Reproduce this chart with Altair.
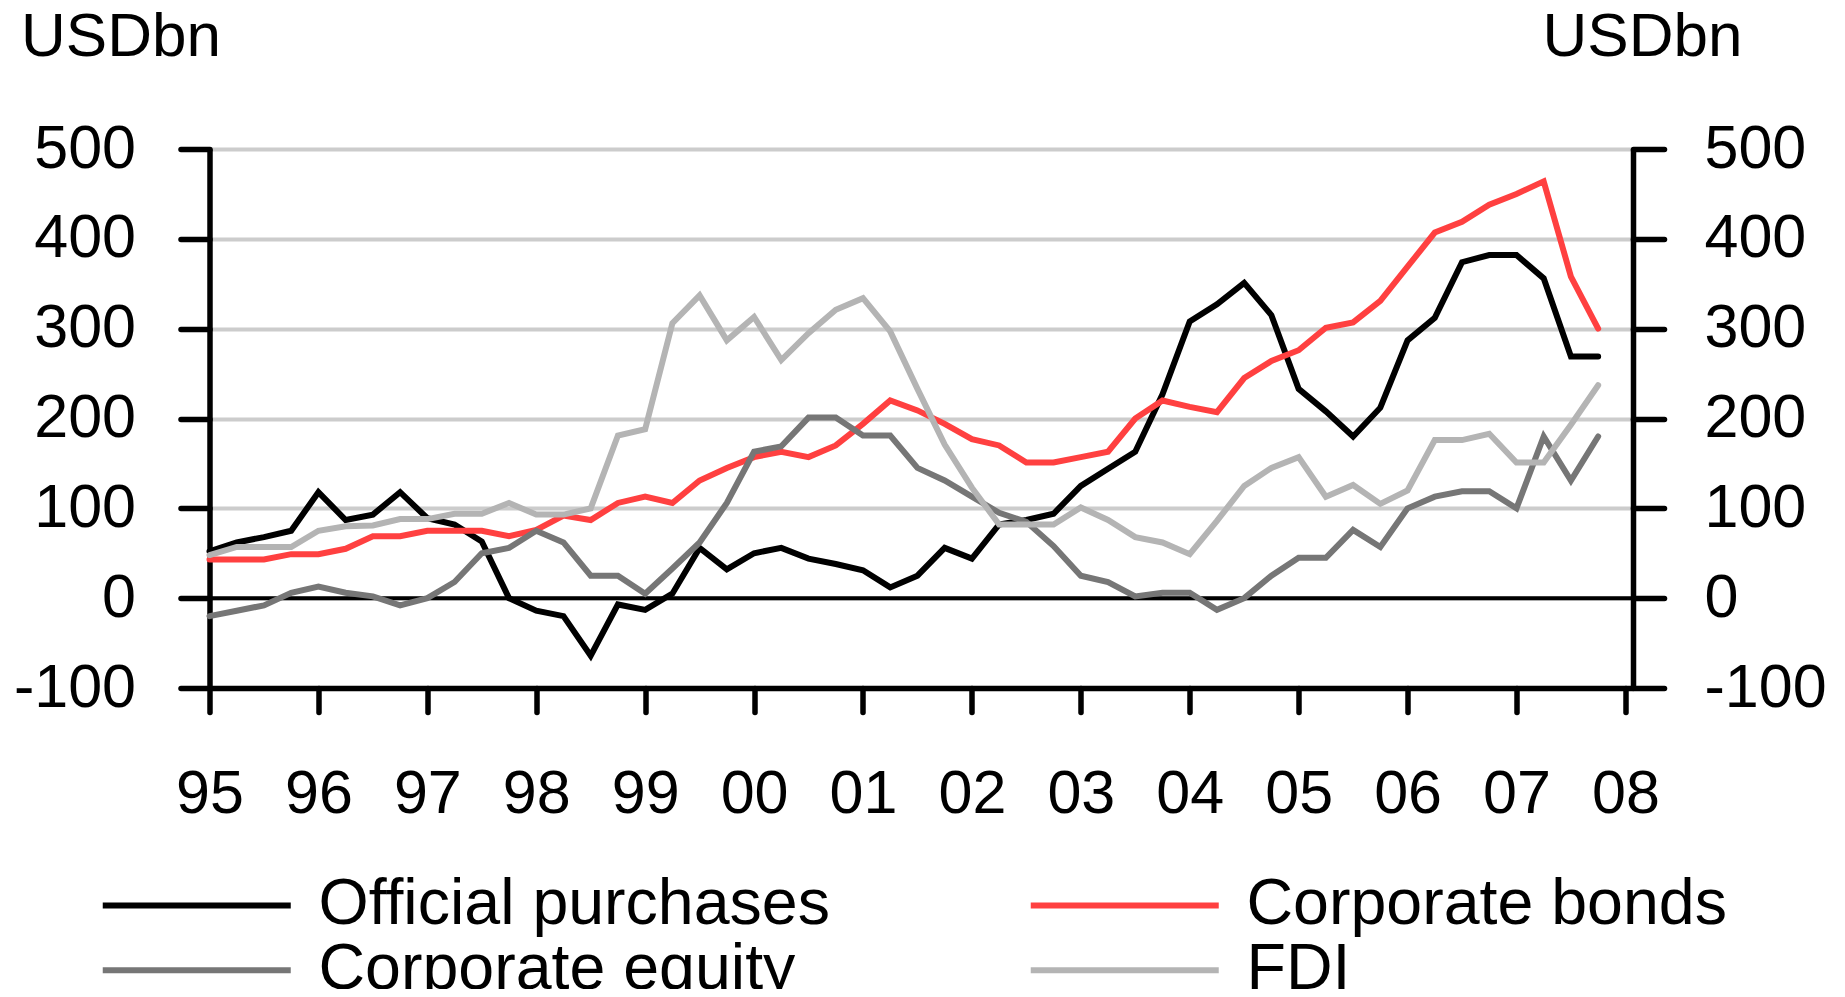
import altair as alt
import pandas as pd

# ---- data (quarterly, 1995Q1 .. 2007Q4), USD bn ----
start_year = 1995
series_names = ["Official purchases", "Corporate bonds", "Corporate equity", "FDI"]
series_colors = ["#000000", "#ff4040", "#767676", "#b4b4b4"]
# legend fills column by column: order so that rows read
# "Official purchases | Corporate bonds" and "Corporate equity | FDI"
legend_order = ["Official purchases", "Corporate equity", "Corporate bonds", "FDI"]
legend_colors = ["#000000", "#767676", "#ff4040", "#b4b4b4"]

official = [52, 62, 68, 75, 118, 87, 93, 118, 89, 82, 63, 0, -14, -20, -64, -7,
            -13, 5, 56, 32, 50, 56, 44, 38, 31, 12, 25, 56, 44, 82, 87, 94,
            125, 144, 163, 227, 308, 327, 351, 315, 233, 208, 180, 212, 287, 312, 374, 382,
            382, 356, 269, 269]
bonds = [43, 43, 43, 49, 49, 55, 69, 69, 75, 75, 75, 69, 76, 92, 87, 106,
         113, 106, 131, 145, 157, 163, 157, 170, 194, 220, 209, 194, 177, 170, 151, 151,
         157, 163, 200, 220, 213, 207, 245, 264, 276, 301, 307, 331, 369, 407, 419, 438,
         450, 464, 358, 300]
equity = [-20, -14, -8, 6, 13, 6, 2, -8, 0, 18, 50, 56, 75, 62, 25, 25,
          5, 33, 62, 106, 163, 169, 201, 201, 181, 181, 145, 131, 113, 95, 85, 58,
          25, 18, 2, 6, 6, -13, 0, 25, 45, 45, 76, 57, 100, 113, 119, 119,
          100, 180, 131, 180]
fdi = [48, 57, 57, 57, 75, 80, 81, 88, 88, 94, 94, 106, 93, 93, 100, 181,
       188, 306, 337, 287, 313, 265, 295, 321, 334, 297, 233, 171, 123, 82, 82, 82,
       101, 87, 68, 62, 49, 86, 125, 145, 157, 113, 126, 105, 120, 176, 176, 183,
       151, 151, 193, 237]

year_ticks = list(range(1995, 2009))
y_ticks = [-100, 0, 100, 200, 300, 400, 500]
y_domain = [-100, 500]
x_domain = [1995, 2008.07]

rows = []
for name, vals in zip(series_names, [official, bonds, equity, fdi]):
    for i, v in enumerate(vals):
        rows.append({"t": start_year + i / 4.0, "series": name, "value": v})
df = pd.DataFrame(rows)

FONT = "Liberation Sans"
FS = 61
AXW = 5.5

lines = alt.Chart(df).mark_line(strokeWidth=6, strokeCap="round").encode(
    x=alt.X("t:Q",
            scale=alt.Scale(domain=x_domain, nice=False, zero=False),
            axis=alt.Axis(values=year_ticks, title=None, grid=False,
                          labelExpr="substring(toString(datum.value), 2)",
                          tickSize=24, tickWidth=AXW, tickColor="black", tickCap="round",
                          domainColor="black", domainWidth=AXW,
                          labelPadding=52, labelFont=FONT, labelFontSize=FS,
                          labelColor="black", labelFlush=False, labelOverlap=False)),
    y=alt.Y("value:Q",
            scale=alt.Scale(domain=y_domain, nice=False, zero=False),
            axis=alt.Axis(orient="left", values=y_ticks, grid=True,
                          gridColor="#cccccc", gridWidth=4,
                          labelExpr="toString(datum.value)",
                          tickSize=29, tickWidth=AXW, tickColor="black", tickCap="round",
                          domainColor="black", domainWidth=AXW,
                          labelPadding=45, labelFont=FONT, labelFontSize=FS,
                          labelColor="black", labelFlush=False, labelOverlap=False,
                          title="USDbn", titleAngle=0, titleX=-189, titleY=-94,
                          titleAlign="left", titleBaseline="alphabetic",
                          titleFont=FONT, titleFontSize=62, titleFontWeight="normal",
                          titleColor="black")),
    color=alt.Color("series:N",
                    scale=alt.Scale(domain=legend_order, range=legend_colors),
                    sort=legend_order,
                    legend=alt.Legend(orient="none", legendX=-45, legendY=724,
                                      columns=2, title=None, padding=0,
                                      symbolType="M-4,0H4", symbolSize=2209,
                                      symbolStrokeWidth=6,
                                      labelFont=FONT, labelFontSize=64.5,
                                      labelColor="black", labelOffset=89.5,
                                      labelLimit=1000, columnPadding=188,
                                      rowPadding=0)),
)

zero_df = pd.DataFrame({"value": [0]})
zero = alt.Chart(zero_df).mark_rule(color="black", strokeWidth=4).encode(
    y=alt.Y("value:Q",
            scale=alt.Scale(domain=y_domain, nice=False, zero=False),
            axis=alt.Axis(orient="right", values=y_ticks, grid=False,
                          labelExpr="toString(datum.value)",
                          tickSize=31, tickWidth=AXW, tickColor="black", tickCap="round",
                          domainColor="black", domainWidth=AXW,
                          labelPadding=40, labelAlign="left", labelFont=FONT,
                          labelFontSize=FS, labelColor="black", labelFlush=False,
                          labelOverlap=False,
                          title="USDbn", titleAngle=0, titleX=-91, titleY=-94,
                          titleAlign="left", titleBaseline="alphabetic",
                          titleFont=FONT, titleFontSize=62, titleFontWeight="normal",
                          titleColor="black")),
)

chart = alt.layer(zero, lines).resolve_scale(y="independent").properties(
    width=1423.5, height=539,
    autosize=alt.AutoSizeParams(type="none"),
    padding={"left": 201.5, "top": 141, "right": 200, "bottom": 301},
    background="white",
).configure_view(stroke=None).configure(font=FONT)

chart.save("out.html", embed_options={"renderer": "svg", "actions": False})
